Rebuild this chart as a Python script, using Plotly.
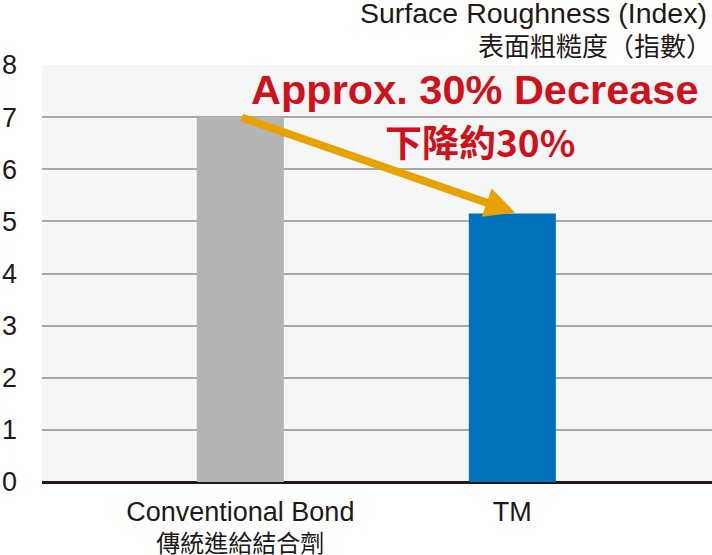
import plotly.graph_objects as go

categories = ["Conventional Bond", "TM"]
categories_zh = ["傳統進給結合劑", ""]
values = [7.0, 5.15]
bar_colors = ["#b4b4b4", "#0072bc"]
y_ticks = [0, 1, 2, 3, 4, 5, 6, 7, 8]

xpos = list(range(len(categories)))
ticktext = [
    f"<span style='font-size:27px'>{en}</span>"
    + (f"<br><span style='font-size:24px'>{zh}</span>" if zh else "")
    for en, zh in zip(categories, categories_zh)
]

fig = go.Figure()
fig.add_trace(go.Bar(x=xpos, y=values, marker=dict(color=bar_colors, line=dict(width=0)),
                     width=0.32, hoverinfo="skip"))

font_latin = "'Liberation Sans', Arial, 'Noto Sans CJK TC', sans-serif"
font_cjk = "'Noto Sans CJK TC', sans-serif"

fig.update_layout(
    width=712, height=555,
    margin=dict(l=42, r=0, t=65, b=73, autoexpand=False),
    paper_bgcolor="white",
    plot_bgcolor="#f5f7f7",
    showlegend=False,
    font=dict(family=font_latin, color="#231815"),
    xaxis=dict(range=[-0.729, 1.734], tickvals=xpos, ticktext=ticktext,
               showgrid=False, zeroline=False, showline=False, automargin=False,
               tickfont=dict(size=24, color="#231815"), ticks="", ticklabelstandoff=14),
    yaxis=dict(range=[0, 8], tickvals=y_ticks, showgrid=True, gridcolor="#a8a8a8",
               gridwidth=2, zeroline=True, zerolinecolor="#231815", zerolinewidth=3,
               tickfont=dict(size=27, color="#231815"), ticklabelstandoff=24,
               showline=False, ticks="", automargin=False),
)

fig.add_annotation(text="Surface Roughness (Index)", xref="paper", yref="paper",
                   x=1.0, y=1.0, xanchor="right", yanchor="middle", yshift=52,
                   xshift=-3, showarrow=False,
                   font=dict(size=28.5, color="#231815", family=font_latin))
fig.add_annotation(text="表面粗糙度（指數）", xref="paper", yref="paper",
                   x=1.0, y=1.0, xanchor="right", yanchor="middle", yshift=21,
                   xshift=2, showarrow=False,
                   font=dict(size=26, color="#231815", family=font_cjk))

# arrow
fig.add_annotation(x=1.01, y=5.17, ax=0.0, ay=7.0, xref="x", yref="y", axref="x", ayref="y",
                   text="", showarrow=True, arrowhead=2, arrowsize=0.75, arrowwidth=8,
                   arrowcolor="#e8a200")

fig.add_annotation(text="<b>Approx. 30% Decrease</b>", xref="paper", yref="paper",
                   x=(701 - 42) / 670, y=(482 - 90) / 417, xanchor="right", yanchor="middle",
                   showarrow=False, font=dict(size=41.5, color="#d0101b", family=font_latin))
fig.add_annotation(text="<b>下降約30%</b>", xref="paper", yref="paper",
                   x=(480 - 42) / 670, y=(482 - 141) / 417, xanchor="center", yanchor="middle",
                   showarrow=False, font=dict(size=37, color="#d0101b", family=font_cjk))

fig.write_html("out.html", config={"displayModeBar": False},
               post_script="document.body.style.margin='0';document.body.style.overflow='hidden';")
